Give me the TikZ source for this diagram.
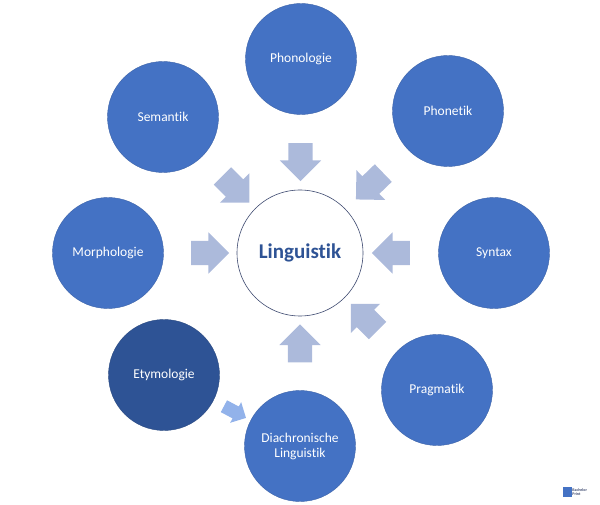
\documentclass[tikz,border=0pt]{standalone}
\usepackage{fontspec}
\setmainfont{Carlito}[Ligatures=NoCommon]
\usetikzlibrary{calc}
\usetikzlibrary{shapes.arrows}

\definecolor{kreisblau}{RGB}{68,114,196}
\definecolor{kreisdunkel}{RGB}{46,83,149}
\definecolor{pfeilgrau}{RGB}{172,186,219}
\definecolor{pfeilhell}{RGB}{146,178,234}
\definecolor{randblau}{RGB}{62,74,112}

\begin{document}
\begin{tikzpicture}[x=1pt, y=-1pt,
  topic/.style={circle, fill=kreisblau, draw=kreisblau!85!black, thin, minimum size=111pt, inner sep=0, text=white, align=center, font=\fontsize{13.5}{15}\selectfont},
  hin/.style={single arrow, fill=pfeilgrau, inner xsep=0, inner ysep=12pt, minimum height=38pt, minimum width=41pt, single arrow head extend=8.5pt},
 ]
\useasboundingbox (0,0) rectangle (600,505);
\node[circle, draw=randblau, fill=white, semithick, minimum size=126pt, text=kreisdunkel, font=\bfseries\fontsize{21}{24}\selectfont] (ling) at (300,253) {Linguistik};
\foreach \n/\x/\y/\t in {phonol/301/59/Phonologie, phonet/448/111/Phonetik, syntax/494/253/Syntax, pragm/437/390/Pragmatik, morph/108/253/Morphologie, seman/163/117/Semantik} {
 \node[topic] (\n) at (\x,\y) {\t};
}
\node[topic] (diach) at (300,446) {Diachronische\\Linguistik};
\node[topic, fill=kreisdunkel, draw=kreisdunkel!85!black] (etym) at (164,375) {Etymologie};
% Pfeile zur Mitte
\foreach \n/\w in {phonol/-90, phonet/-136, syntax/180, pragm/135, diach/90, morph/0, seman/-45} {
 \node[hin, rotate=\w] (pf-\n) at ($(\n)!0.5!(ling)$) {};
}
\node[hin, fill=pfeilhell, inner ysep=6.5pt, minimum height=25pt, minimum width=23pt, single arrow head extend=5pt, rotate=-28] (pf-etym) at ($(etym)!0.5!(diach)$) {};
% Logo
\node[fill=kreisblau, minimum width=9pt, minimum height=10pt, inner sep=0] (logo) at (567,492) {};
\node[right, inner sep=.5pt, align=left, text=randblau, font=\bfseries\fontsize{4}{4.2}\selectfont] (logotext) at (logo.east) {Bachelor\\Print};
\end{tikzpicture}
\end{document}
